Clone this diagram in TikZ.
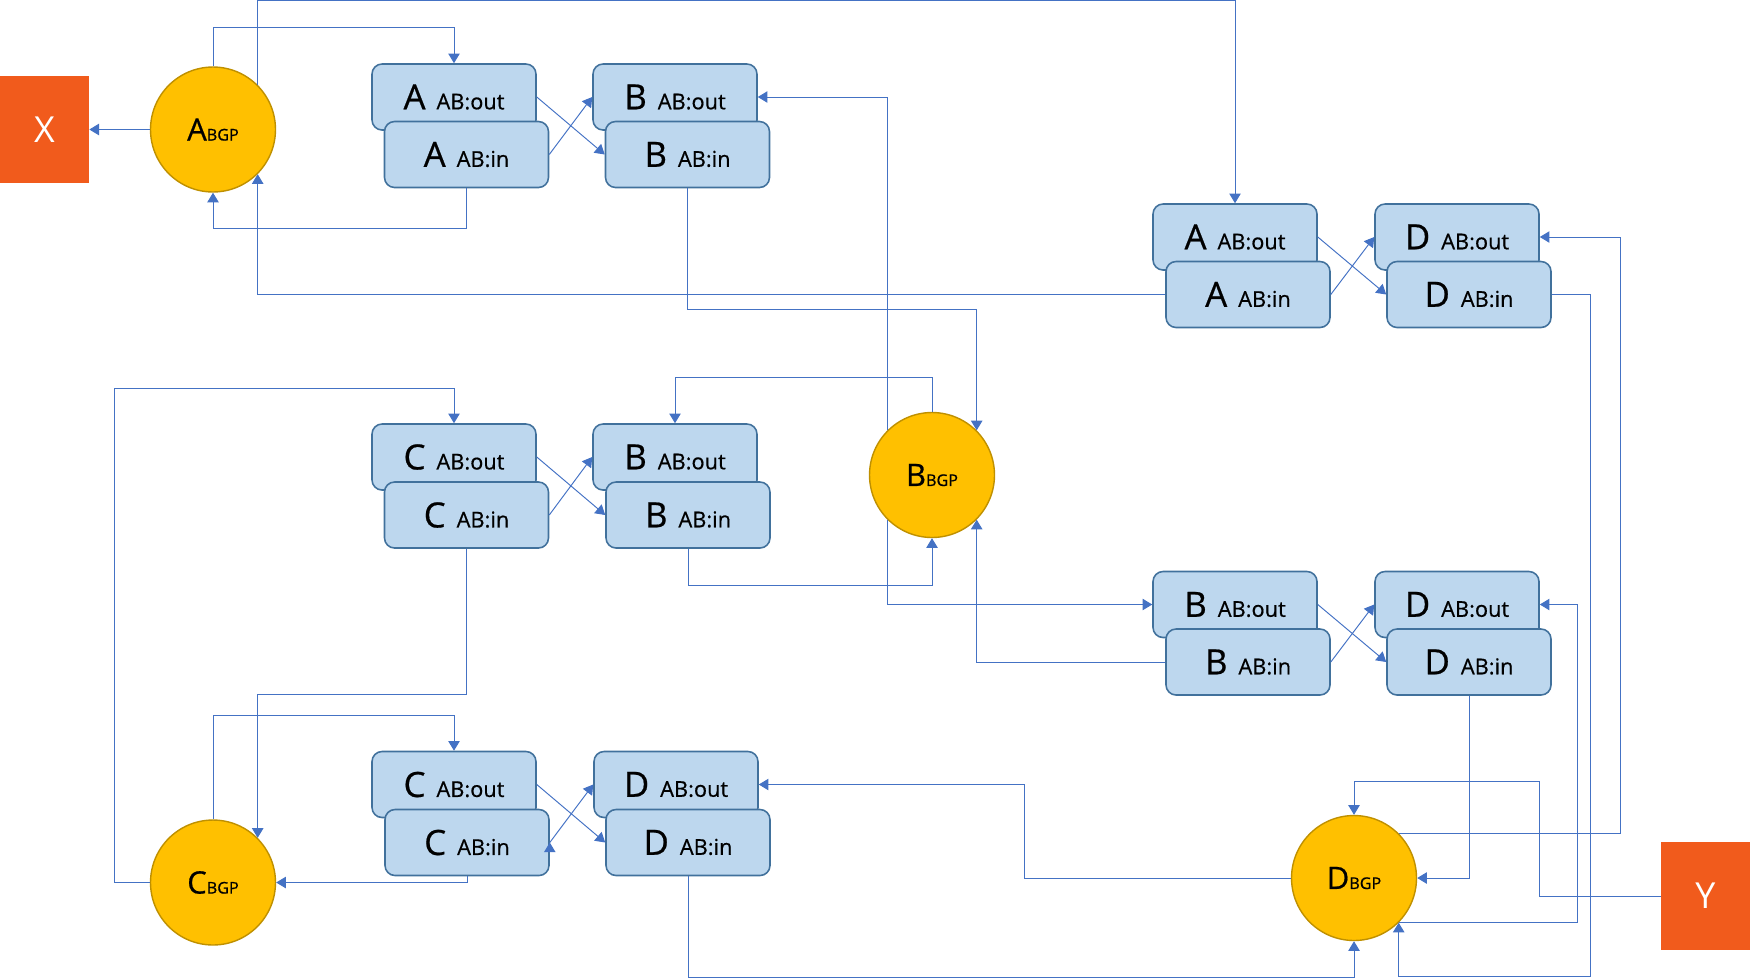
\documentclass[tikz,border=0pt]{standalone}
\usepackage{fontspec}
\setmainfont{Open Sans}
\newfontfamily\lblfont{Open Sans}[FakeBold=0.6]
\usepackage{xcolor}
\usetikzlibrary{arrows.meta}
\definecolor{linkblue}{HTML}{4472C4}
\definecolor{boxfill}{HTML}{BDD7EE}
\definecolor{boxline}{HTML}{41719C}
\definecolor{bgpfill}{HTML}{FFC000}
\definecolor{bgpline}{HTML}{BF9000}
\definecolor{extorange}{HTML}{F15B1C}
\tikzset{
link/.style={color=linkblue, line width=0.55pt, -{Triangle[length=5.5pt,width=6.5pt]}}, % thin blue connector, filled head
abox/.style={draw=boxline, fill=boxfill, line width=0.9pt, rounded corners=0.2cm,
  minimum width=3.28cm, minimum height=1.32cm, inner sep=0pt, font=\lblfont}, % AB:out / AB:in boxes
bgp/.style={circle, draw=bgpline, fill=bgpfill, line width=0.8pt, minimum size=2.5cm, inner sep=0pt, font=\lblfont}, % BGP speakers
ext/.style={fill=extorange, text=white, minimum width=1.78cm, minimum height=2.16cm,
  font=\fontsize{20.4}{22}\selectfont}, % outside peers
}
\newcommand{\boxlabel}[2]{{\fontsize{19.8}{20}\selectfont #1}\hspace{0.22cm}{\fontsize{12.4}{13}\selectfont #2}}
\newcommand{\bgplabel}[1]{{\fontsize{17.6}{18}\selectfont #1}{\fontsize{9.2}{10}\selectfont BGP}}

\begin{document}
\begin{tikzpicture}[x=0.02cm, y=-0.02cm]
        \useasboundingbox (0,0) rectangle (1750,978);
        % outside peers and BGP speakers
        \node[ext] (extX) at (44.5,129.5) {X};
        \node[ext] (extY) at (1705.5,896) {Y};
        \node[bgp] (abgp) at (213,129.5) {\bgplabel{A}};
        \node[bgp] (bbgp) at (932,475) {\bgplabel{B}};
        \node[bgp] (cbgp) at (213,882.5) {\bgplabel{C}};
        \node[bgp] (dbgp) at (1354,878) {\bgplabel{D}};

        % link A-B
        \node[abox] (a1out) at (454,97) {\boxlabel{A}{AB:out}};
        \node[abox] (a1in) at (466.5,154.5) {\boxlabel{A}{AB:in}};
        \node[abox] (b1out) at (675,97) {\boxlabel{B}{AB:out}};
        \node[abox] (b1in) at (687.5,154.5) {\boxlabel{B}{AB:in}};
        % link A-D
        \node[abox] (a2out) at (1235,237) {\boxlabel{A}{AB:out}};
        \node[abox] (a2in) at (1248,294.5) {\boxlabel{A}{AB:in}};
        \node[abox] (d2out) at (1457,237) {\boxlabel{D}{AB:out}};
        \node[abox] (d2in) at (1469,294.5) {\boxlabel{D}{AB:in}};
        % link C-B
        \node[abox] (c3out) at (454,457) {\boxlabel{C}{AB:out}};
        \node[abox] (c3in) at (466.5,515) {\boxlabel{C}{AB:in}};
        \node[abox] (b3out) at (675,457) {\boxlabel{B}{AB:out}};
        \node[abox] (b3in) at (688,515) {\boxlabel{B}{AB:in}};
        % link B-D
        \node[abox] (b4out) at (1235,604.5) {\boxlabel{B}{AB:out}};
        \node[abox] (b4in) at (1248,662) {\boxlabel{B}{AB:in}};
        \node[abox] (d4out) at (1457,604.5) {\boxlabel{D}{AB:out}};
        \node[abox] (d4in) at (1469,662) {\boxlabel{D}{AB:in}};
        % link C-D
        \node[abox] (c5out) at (454,784.5) {\boxlabel{C}{AB:out}};
        \node[abox] (c5in) at (467,842.5) {\boxlabel{C}{AB:in}};
        \node[abox] (d5out) at (676,784.5) {\boxlabel{D}{AB:out}};
        \node[abox] (d5in) at (688,842.5) {\boxlabel{D}{AB:in}};

        % crossings inside each link
        \draw[link] (a1out.east) edge (b1in.west)
                    (a1in.east) edge (b1out.west)
                    (a2out.east) edge (d2in.west)
                    (a2in.east) edge (d2out.west)
                    (c3out.east) edge (b3in.west)
                    (c3in.east) edge (b3out.west)
                    (b4out.east) edge (d4in.west)
                    (b4in.east) edge (d4out.west)
                    (c5out.east) edge (d5in.west)
                    (c5in.east) edge (d5out.west);

        % A
        \draw[link] (abgp.west) -- (extX.east);
        \draw[link] (abgp.north) -- ++(0,-39) -| (a1out.north);
        \draw[link] (a1in.south) -- ++(0,40.5) -| (abgp.south);
        \draw[link] (abgp.north east) -- ++(0,-84) -| (a2out.north);
        \draw[link] (a2in.west) -| (abgp.south east);
        % B
        \draw[link] (b1in.south) -- ++(0,121.5) -| (bbgp.north east);
        \draw[link] (bbgp.north west) |- (b1out.east);
        \draw[link] (bbgp.south west) |- (b4out.west);
        \draw[link] (bbgp.north) -- ++(0,-34.5) -| (b3out.north);
        \draw[link] (b3in.south) -- ++(0,37) -| (bbgp.south);
        \draw[link] (b4in.west) -| (bbgp.south east);
        % C
        \draw[link] (cbgp.west) -| (114,388) -| (c3out.north);
        \draw[link] (c3in.south) -- ++(0,146) -| (cbgp.north east);
        \draw[link] (cbgp.north) -- ++(0,-104) -| (c5out.north);
        \draw[link] (c5in.south) |- (cbgp.east);
        % D
        \draw[link] (d5in.south) -- ++(0,101) -| (dbgp.south);
        \draw[link] (dbgp.west) -- ++(-266,0) |- (d5out.east);
        \draw[link] (d4in.south) |- (dbgp.east);
        \draw[link] (extY.west) -| (1539,781) -| (dbgp.north);
        \draw[link] (dbgp.north east) -- ++(222,0) |- (d2out.east);
        \draw[link] (d2in.east) -- ++(39,0) -- ++(0,682) -| (dbgp.south east);
        \draw[link] (dbgp.south east) -- ++(179,0) |- (d4out.east);
    \end{tikzpicture}
\end{document}
